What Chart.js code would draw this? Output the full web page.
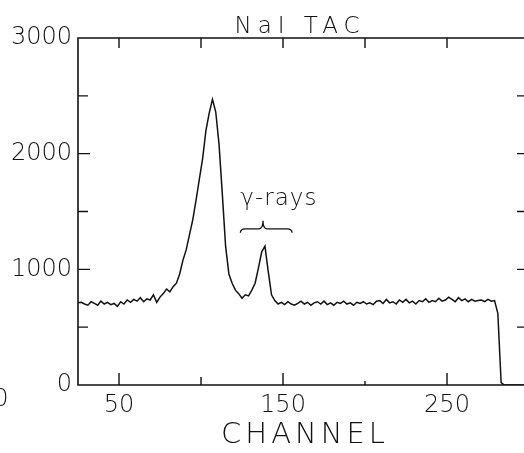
<!DOCTYPE html>
<html>
<head>
<meta charset="utf-8">
<script src="https://cdn.jsdelivr.net/npm/chart.js@4/dist/chart.umd.min.js"></script>
<style>
  html, body { margin: 0; padding: 0; background: #fff; overflow: hidden; }
  canvas { display: block; }
</style>
</head>
<body>
<canvas id="tacChart" width="532" height="453"></canvas>
<script>
// channel numbers (every 2nd channel) and counts
var channels = [];
for (var c = 25; c <= 299; c += 2) channels.push(c);
var counts = [
  710, 715, 700, 690, 720, 705, 690, 725, 700, 715,
  695, 705, 680, 720, 700, 735, 715, 740, 725, 755,
  720, 745, 735, 780, 715, 760, 790, 830, 805, 850,
  880, 960, 1080, 1170, 1300, 1430, 1600, 1780, 1960, 2200,
  2350, 2470, 2360, 2080, 1650, 1200, 960, 880, 820, 790,
  750, 780, 770, 820, 880, 1010, 1150, 1200, 980, 780,
  730, 700, 715, 695, 720, 700, 690, 705, 725, 700,
  715, 690, 710, 720, 700, 725, 695, 710, 690, 715,
  705, 725, 700, 710, 690, 715, 705, 720, 700, 710,
  695, 725, 730, 705, 740, 710, 720, 700, 735, 715,
  740, 710, 725, 700, 730, 720, 745, 715, 730, 720,
  750, 725, 735, 760, 740, 720, 755, 730, 745, 720,
  740, 725, 730, 735, 720, 740, 725, 730, 620, 20,
  0, 0, 0, 0, 0, 0, 0, 0
];

// axis ticks
var xLabelTicks = [50, 150, 250];
var xMinorTicks = [100, 200];
var yLabelTicks = [0, 1000, 2000, 3000];
var yMinorTicks = [500, 1500, 2500];

var ink = '#111';
var labelFont = '"DejaVu Sans", sans-serif';

var framePlugin = {
  id: 'frame',
  afterDraw: function(chart) {
    var ctx = chart.ctx;
    var a = chart.chartArea;
    var xs = chart.scales.x, ys = chart.scales.y;
    ctx.save();
    ctx.strokeStyle = ink;
    ctx.lineWidth = 1.6;
    ctx.beginPath();
    ctx.rect(a.left, a.top, a.right - a.left, a.bottom - a.top);
    ctx.stroke();

    // inward ticks
    ctx.lineWidth = 1.4;
    ctx.beginPath();
    xLabelTicks.forEach(function(v) {
      var px = xs.getPixelForValue(v);
      ctx.moveTo(px, a.bottom); ctx.lineTo(px, a.bottom - 12);
      ctx.moveTo(px, a.top); ctx.lineTo(px, a.top + 10);
    });
    xMinorTicks.forEach(function(v) {
      var px = xs.getPixelForValue(v);
      ctx.moveTo(px, a.bottom); ctx.lineTo(px, a.bottom - (v === 200 ? 4 : 8));
      ctx.moveTo(px, a.top); ctx.lineTo(px, a.top + 10);
    });
    yLabelTicks.concat(yMinorTicks).forEach(function(v) {
      var py = ys.getPixelForValue(v);
      var major = yLabelTicks.indexOf(v) >= 0;
      if (v !== 0 && v !== 3000) {
        ctx.moveTo(a.left, py); ctx.lineTo(a.left + (major ? 12 : 10), py);
        ctx.moveTo(a.right, py); ctx.lineTo(a.right - 12, py);
      }
    });
    ctx.stroke();

    ctx.fillStyle = ink;
    ctx.textBaseline = 'alphabetic';
    ctx.textAlign = 'center';

    // title
    ctx.font = '200 23px ' + labelFont;
    ctx.letterSpacing = '6px';
    ctx.fillText('NaI TAC', 300, 33);

    // axis title
    ctx.font = '200 29px ' + labelFont;
    ctx.letterSpacing = '4px';
    ctx.fillText('CHANNEL', 305, 443);

    // partial tick label from the neighbouring panel
    ctx.font = '200 24px ' + labelFont;
    ctx.letterSpacing = '0px';
    ctx.fillText('0', 1, 406);

    // gamma-ray annotation with brace
    var bx0 = xs.getPixelForValue(124), bx1 = xs.getPixelForValue(155.5);
    var bxm = xs.getPixelForValue(137.8);
    var by = ys.getPixelForValue(1350);
    ctx.font = '200 23px ' + labelFont;
    ctx.letterSpacing = '1px';
    ctx.textAlign = 'left';
    ctx.fillText('\u03B3-rays', bx0, ys.getPixelForValue(1560));

    ctx.lineWidth = 1.3;
    ctx.beginPath();
    ctx.moveTo(bx0, by + 4);
    ctx.quadraticCurveTo(bx0, by, bx0 + 5, by);
    ctx.lineTo(bxm - 4, by);
    ctx.quadraticCurveTo(bxm, by, bxm, by - 8);
    ctx.quadraticCurveTo(bxm, by, bxm + 4, by);
    ctx.lineTo(bx1 - 5, by);
    ctx.quadraticCurveTo(bx1, by, bx1, by + 4);
    ctx.stroke();
    ctx.restore();
  }
};

var points = channels.map(function(ch, i) { return { x: ch, y: counts[i] }; });

new Chart(document.getElementById('tacChart').getContext('2d'), {
  type: 'line',
  data: {
    datasets: [{
      data: points,
      borderColor: ink,
      borderWidth: 1.5,
      pointRadius: 0,
      tension: 0,
      fill: false
    }]
  },
  options: {
    responsive: false,
    animation: false,
    layout: { padding: { top: 38, right: 3, left: 0, bottom: 0 } },
    plugins: { legend: { display: false }, tooltip: { enabled: false } },
    scales: {
      x: {
        type: 'linear',
        min: 25,
        max: 300,
        grid: { display: false, drawTicks: false },
        border: { display: false },
        afterBuildTicks: function(s) { s.ticks = xLabelTicks.map(function(v) { return { value: v }; }); },
        afterFit: function(s) { s.height = 68; },
        ticks: {
          color: ink,
          padding: 6,
          maxRotation: 0,
          callback: function(v) { return String(v); },
          font: { family: labelFont, size: 24, weight: '200' }
        }
      },
      y: {
        min: 0,
        max: 3000,
        grid: { display: false, drawTicks: false },
        border: { display: false },
        afterBuildTicks: function(s) { s.ticks = yLabelTicks.map(function(v) { return { value: v }; }); },
        afterFit: function(s) { s.width = 78; },
        ticks: {
          color: ink,
          padding: 6,
          callback: function(v) { return String(v); },
          font: { family: labelFont, size: 24, weight: '200' }
        }
      }
    }
  },
  plugins: [framePlugin]
});
</script>
</body>
</html>
